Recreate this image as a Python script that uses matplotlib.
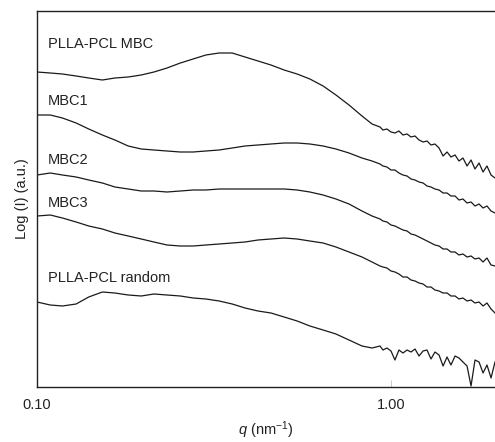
import numpy as np
import matplotlib
matplotlib.use('Agg')
import matplotlib.pyplot as plt

plt.rcParams['font.family'] = ['Liberation Sans', 'DejaVu Sans']
plt.rcParams['mathtext.fontset'] = 'custom'
plt.rcParams['mathtext.rm'] = 'Liberation Sans'
plt.rcParams['mathtext.it'] = 'Liberation Sans:italic'

# scattering vector q (nm^-1)
q = [0.100, 0.109, 0.118, 0.129, 0.140, 0.153, 0.166, 0.181, 0.197, 0.214,
     0.233, 0.254, 0.276, 0.300, 0.327, 0.356, 0.387, 0.421, 0.458, 0.499,
     0.543, 0.590, 0.643, 0.699, 0.761, 0.828, 0.884, 0.931,
     0.949, 0.974, 1.000, 1.026, 1.053, 1.081, 1.110, 1.139, 1.169, 1.200,
     1.232, 1.264, 1.297, 1.331, 1.367, 1.403, 1.440, 1.477, 1.517, 1.556,
     1.597, 1.640, 1.683, 1.727, 1.773, 1.820, 1.867, 1.917, 1.967]

# log intensity, shifted (a.u.)
mbc = [3.15, 3.14, 3.13, 3.11, 3.09, 3.07, 3.09, 3.10, 3.12, 3.15,
       3.19, 3.24, 3.28, 3.32, 3.34, 3.34, 3.30, 3.26, 3.22, 3.17,
       3.13, 3.08, 3.01, 2.92, 2.82, 2.71, 2.63, 2.60,
       2.57, 2.58, 2.55, 2.54, 2.56, 2.52, 2.53, 2.50, 2.51, 2.47,
       2.45, 2.46, 2.42, 2.43, 2.39, 2.31, 2.35, 2.30, 2.32, 2.26,
       2.29, 2.21, 2.27, 2.18, 2.24, 2.15, 2.21, 2.12, 2.09]
mbc1 = [2.72, 2.72, 2.69, 2.64, 2.58, 2.52, 2.47, 2.41, 2.38, 2.37,
        2.36, 2.35, 2.35, 2.36, 2.37, 2.39, 2.41, 2.42, 2.43, 2.44,
        2.44, 2.43, 2.41, 2.38, 2.34, 2.29, 2.26, 2.23,
        2.21, 2.20, 2.17, 2.17, 2.14, 2.12, 2.11, 2.08, 2.07, 2.05,
        2.04, 2.01, 2.00, 1.98, 1.97, 1.94, 1.94, 1.91, 1.91, 1.87,
        1.88, 1.84, 1.85, 1.81, 1.83, 1.79, 1.81, 1.76, 1.74]
mbc2 = [2.12, 2.14, 2.12, 2.10, 2.07, 2.04, 2.00, 1.98, 1.96, 1.96,
        1.95, 1.96, 1.97, 1.97, 1.98, 1.98, 1.98, 1.98, 1.98, 1.98,
        1.97, 1.95, 1.92, 1.88, 1.83, 1.76, 1.71, 1.68,
        1.66, 1.65, 1.62, 1.61, 1.59, 1.57, 1.56, 1.53, 1.52, 1.50,
        1.48, 1.46, 1.44, 1.42, 1.41, 1.38, 1.38, 1.35, 1.35, 1.32,
        1.33, 1.30, 1.31, 1.28, 1.29, 1.25, 1.29, 1.22, 1.21]
mbc3 = [1.71, 1.72, 1.69, 1.65, 1.61, 1.58, 1.54, 1.51, 1.48, 1.45,
        1.42, 1.41, 1.41, 1.42, 1.43, 1.44, 1.45, 1.47, 1.48, 1.49,
        1.48, 1.46, 1.44, 1.40, 1.35, 1.30, 1.25, 1.21,
        1.20, 1.19, 1.16, 1.15, 1.13, 1.10, 1.10, 1.07, 1.06, 1.04,
        1.03, 1.00, 1.00, 0.97, 0.96, 0.94, 0.94, 0.91, 0.91, 0.88,
        0.89, 0.86, 0.87, 0.84, 0.85, 0.81, 0.84, 0.78, 0.74]
rand = [0.85, 0.82, 0.81, 0.83, 0.90, 0.95, 0.94, 0.92, 0.91, 0.93,
        0.92, 0.91, 0.89, 0.88, 0.86, 0.83, 0.79, 0.76, 0.74, 0.70,
        0.66, 0.61, 0.57, 0.53, 0.47, 0.41, 0.39, 0.41,
        0.37, 0.39, 0.36, 0.27, 0.37, 0.34, 0.37, 0.35, 0.38, 0.31,
        0.36, 0.37, 0.28, 0.35, 0.32, 0.21, 0.30, 0.22, 0.31, 0.29,
        0.25, 0.21, 0.01, 0.27, 0.25, 0.14, 0.22, 0.09, 0.25]

names = ['PLLA-PCL MBC', 'MBC1', 'MBC2', 'MBC3', 'PLLA-PCL random']
series = [mbc, mbc1, mbc2, mbc3, rand]
label_y = [0.902, 0.750, 0.593, 0.479, 0.279]

fig = plt.figure(figsize=(4.95, 4.42), dpi=100)
ax = fig.add_axes([37/495, 55/442, 1 - 37/495, 376/442])

for y, name, ly in zip(series, names, label_y):
    ax.plot(q, y, color='#1a1a1a', lw=0.9)
    ax.text(0.024, ly, name, transform=ax.transAxes, fontsize=10.5,
            va='baseline', ha='left', color='#222222')

ax.set_xscale('log')
ax.set_xlim(0.1, 1.967)
ax.set_ylim(0, 3.76)
ax.set_xticks([0.1, 1.0])
ax.set_xticklabels(['0.10', '1.00'])
ax.xaxis.set_minor_locator(matplotlib.ticker.NullLocator())
ax.tick_params(axis='x', direction='in', length=5, color='#cccccc',
               labelsize=10.5, pad=8, labelcolor='#222222')
ax.set_yticks([])
ax.spines['right'].set_visible(False)
for s in ['left', 'top', 'bottom']:
    ax.spines[s].set_linewidth(1.0)
    ax.spines[s].set_color('#222222')

ax.set_xlabel('$q$ (nm$^{-1}$)', fontsize=10.5, labelpad=5, color='#222222')
ax.set_ylabel('Log (I) (a.u.)', fontsize=10.5, labelpad=6, color='#222222')

fig.savefig('out.png', dpi=100)
